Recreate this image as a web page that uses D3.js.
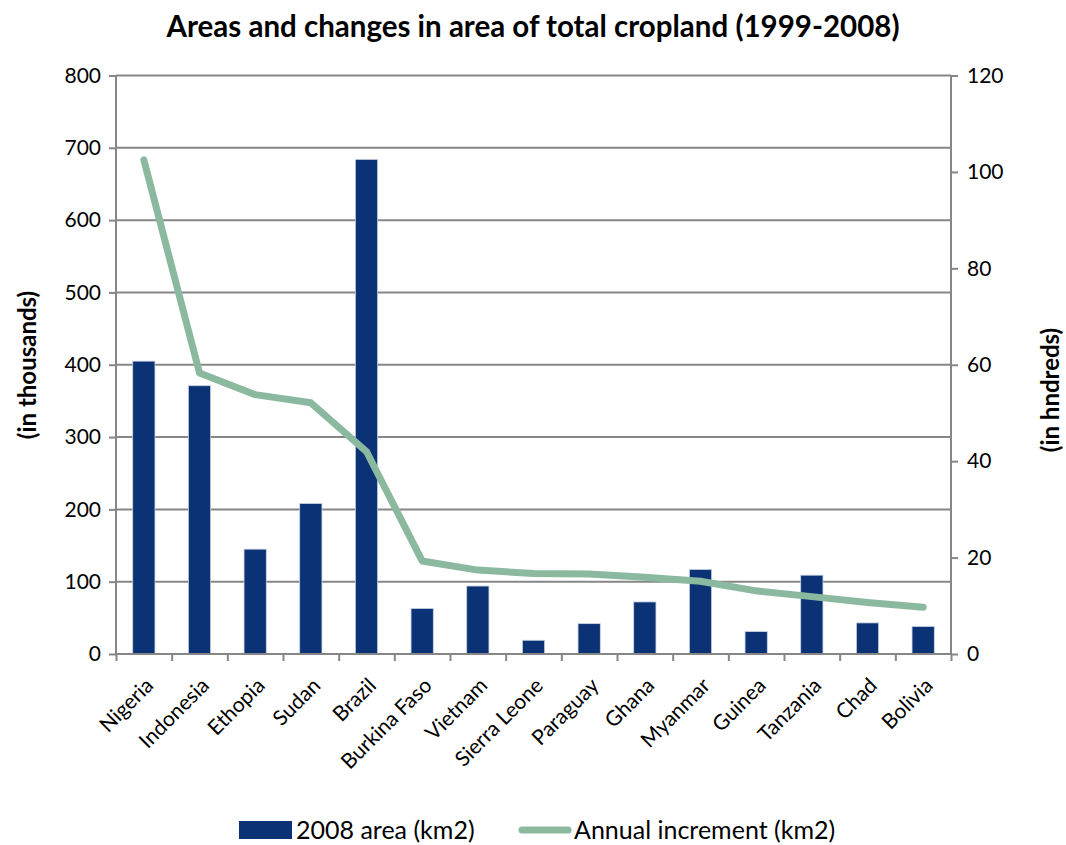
<!DOCTYPE html>
<html>
<head>
<meta charset="utf-8">
<script src="https://cdn.jsdelivr.net/npm/d3@7/dist/d3.min.js"></script>
<style>
  html, body { margin: 0; padding: 0; background: #fff; }
  svg { display: block; font-family: Lato, "Open Sans", sans-serif; }
</style>
</head>
<body>
<svg id="chart" width="1066" height="845"></svg>
<script>
// Cropland data, 15 countries
const countries = ["Nigeria", "Indonesia", "Ethopia", "Sudan", "Brazil", "Burkina Faso", "Vietnam",
  "Sierra Leone", "Paraguay", "Ghana", "Myanmar", "Guinea", "Tanzania", "Chad", "Bolivia"];
// 2008 area (thousand km2)
const area2008 = [405, 371, 145, 208, 684, 63, 94, 19, 42, 72, 117, 31, 109, 43, 38];
// Annual increment (hundred km2)
const annualIncrement = [102.5, 58.3, 53.8, 52.1, 42.0, 19.3, 17.4, 16.7, 16.6, 15.9, 15.1, 13.1, 11.9, 10.7, 9.7];
const leftTicks = [0, 100, 200, 300, 400, 500, 600, 700, 800];
const rightTicks = [0, 20, 40, 60, 80, 100, 120];

const svg = d3.select("#chart");
const x0 = 116, x1 = 951, yTop = 75.5, yBot = 654;

const gridColor = "#868686";
const barColor = "#0b3275";
const lineColor = "#8bb9a0";

const x = d3.scaleBand().domain(countries).range([x0, x1]).paddingInner(0.6).paddingOuter(0.3);
const xb = d3.scaleBand().domain(countries).range([x0, x1]);
const yL = d3.scaleLinear().domain([0, 800]).range([yBot, yTop]);
const yR = d3.scaleLinear().domain([0, 120]).range([yBot, yTop]);

// Title
svg.append("text")
  .attr("x", 533).attr("y", 37)
  .attr("text-anchor", "middle")
  .attr("font-weight", "bold")
  .attr("font-size", 29.5)
  .attr("fill", "#000")
  .text("Areas and changes in area of total cropland (1999-2008)");

// Horizontal gridlines
svg.append("g").selectAll("line").data(leftTicks.filter(d => d > 0)).join("line")
  .attr("x1", x0).attr("x2", x1)
  .attr("y1", d => yL(d)).attr("y2", d => yL(d))
  .attr("stroke", gridColor).attr("stroke-width", 2);

// Bars
svg.append("g").selectAll("rect").data(countries).join("rect")
  .attr("x", (d) => x(d))
  .attr("width", x.bandwidth())
  .attr("y", (d, i) => yL(area2008[i]))
  .attr("height", (d, i) => yBot - yL(area2008[i]))
  .attr("fill", barColor)
  .attr("stroke", "#c9d3e4")
  .attr("stroke-width", 0.8);

// Left axis
const leftAxis = svg.append("g")
  .attr("transform", `translate(${x0},0)`)
  .call(d3.axisLeft(yL).tickValues(leftTicks).tickSize(7).tickPadding(8));
// Right axis
const rightAxis = svg.append("g")
  .attr("transform", `translate(${x1},0)`)
  .call(d3.axisRight(yR).tickValues(rightTicks).tickSize(7).tickPadding(9));
// Bottom axis (category boundaries)
const bottomAxis = svg.append("g")
  .attr("transform", `translate(0,${yBot})`)
  .call(d3.axisBottom(d3.scaleLinear().domain([0, countries.length]).range([x0, x1]))
    .tickValues(d3.range(countries.length + 1)).tickSize(7).tickFormat(""));

[leftAxis, rightAxis, bottomAxis].forEach(g => {
  g.select(".domain").attr("stroke", gridColor).attr("stroke-width", 2);
  g.selectAll(".tick line").attr("stroke", gridColor).attr("stroke-width", 2);
  g.selectAll(".tick text").attr("font-size", 21).attr("fill", "#000")
    .attr("font-family", "Lato, 'Open Sans', sans-serif");
});
bottomAxis.select(".domain").attr("d", `M${x0},0H${x1}`);
leftAxis.select(".domain").attr("d", `M0,${yTop}V${yBot}`);
rightAxis.select(".domain").attr("d", `M0,${yTop}V${yBot}`);

// Category labels, rotated
svg.append("g").selectAll("text").data(countries).join("text")
  .attr("transform", d => `translate(${xb(d) + xb.bandwidth() / 2 + 0.5},${yBot + 22.5}) rotate(-45)`)
  .attr("text-anchor", "end")
  .attr("dy", "0.7em")
  .attr("font-size", 21)
  .attr("fill", "#000")
  .text(d => d);

// Annual increment line
const line = d3.line()
  .x((d, i) => xb(countries[i]) + xb.bandwidth() / 2)
  .y(d => yR(d));
svg.append("path")
  .datum(annualIncrement)
  .attr("d", line)
  .attr("fill", "none")
  .attr("stroke", lineColor)
  .attr("stroke-width", 7)
  .attr("stroke-linejoin", "round")
  .attr("stroke-linecap", "round");

// Axis titles
svg.append("text")
  .attr("transform", "translate(36,365) rotate(-90)")
  .attr("text-anchor", "middle")
  .attr("font-weight", "bold").attr("font-size", 24)
  .text("(in thousands)");
svg.append("text")
  .attr("transform", "translate(1059,390) rotate(-90)")
  .attr("text-anchor", "middle")
  .attr("font-weight", "bold").attr("font-size", 24)
  .text("(in hndreds)");

// Legend
const legend = svg.append("g");
legend.append("rect")
  .attr("x", 239).attr("y", 821).attr("width", 53).attr("height", 18)
  .attr("fill", barColor);
legend.append("text")
  .attr("x", 296).attr("y", 839).attr("font-size", 25).text("2008 area (km2)");
legend.append("line")
  .attr("x1", 522).attr("x2", 568).attr("y1", 830).attr("y2", 830)
  .attr("stroke", lineColor).attr("stroke-width", 7).attr("stroke-linecap", "round");
legend.append("text")
  .attr("x", 574).attr("y", 839).attr("font-size", 25).text("Annual increment (km2)");
</script>
</body>
</html>
